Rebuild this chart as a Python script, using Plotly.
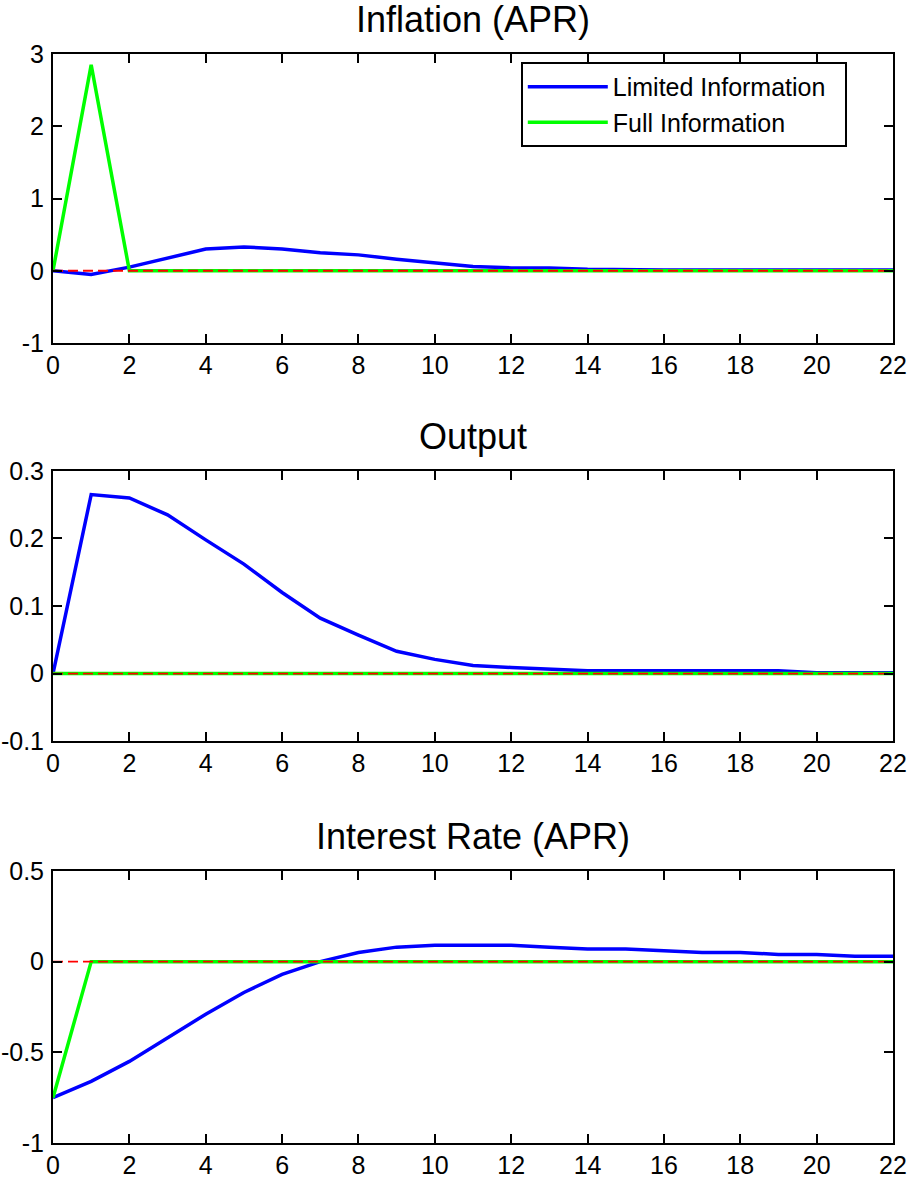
import plotly.graph_objects as go
from plotly.subplots import make_subplots

periods = list(range(0, 23))

infl_limited = [0, -0.05, 0.05, 0.18, 0.30, 0.33, 0.30, 0.25, 0.22, 0.16, 0.11, 0.06, 0.04, 0.04,
                0.02, 0.01, 0.01, 0.01, 0.01, 0.01, 0.01, 0.01, 0.01]
infl_full = [0, 2.85] + [0] * 21

out_limited = [0, 0.265, 0.26, 0.235, 0.198, 0.162, 0.12, 0.082, 0.057, 0.033, 0.021, 0.012, 0.009,
               0.006, 0.004, 0.004, 0.004, 0.004, 0.004, 0.004, 0.001, 0.001, 0.001]
out_full = [0] * 23

rate_limited = [-0.75, -0.66, -0.55, -0.42, -0.29, -0.17, -0.07, 0.0, 0.05, 0.08, 0.09, 0.09, 0.09,
                0.08, 0.07, 0.07, 0.06, 0.05, 0.05, 0.04, 0.04, 0.03, 0.03]
rate_full = [-0.75] + [0] * 22

zero_line = [0] * 23

titles = ["Inflation (APR)", "Output", "Interest Rate (APR)"]
y_ranges = [[-1, 3], [-0.1, 0.3], [-1, 0.5]]
y_ticks = [[-1, 0, 1, 2, 3], [-0.1, 0, 0.1, 0.2, 0.3], [-1, -0.5, 0, 0.5]]
y_ticktext = [["-1", "0", "1", "2", "3"], ["-0.1", "0", "0.1", "0.2", "0.3"], ["-1", "-0.5", "0", "0.5"]]
x_ticks = list(range(0, 23, 2))

FONT = "Liberation Sans, Arial, sans-serif"
TICK_SIZE = 25
NBSP = "\u00a0"

fig = make_subplots(rows=3, cols=1)

series = [(infl_limited, infl_full), (out_limited, out_full), (rate_limited, rate_full)]
for i, (lim, full) in enumerate(series):
    r = i + 1
    fig.add_trace(go.Scatter(x=periods, y=lim, mode="lines", name="Limited Information" + NBSP * 2,
                             line=dict(color="#0000ff", width=3.5), showlegend=(i == 0)), row=r, col=1)
    fig.add_trace(go.Scatter(x=periods, y=full, mode="lines", name="Full Information",
                             line=dict(color="#00ff00", width=3.5), showlegend=(i == 0)), row=r, col=1)
    fig.add_trace(go.Scatter(x=periods, y=zero_line, mode="lines", name="zero",
                             line=dict(color="#ff0000", width=1.8, dash="10px,5px"), showlegend=False),
                  row=r, col=1)

domains = [[0.7346, 1.0], [0.3691, 0.6171], [0.0, 0.2498]]
for i in range(3):
    xa = "xaxis" if i == 0 else f"xaxis{i+1}"
    ya = "yaxis" if i == 0 else f"yaxis{i+1}"
    fig.layout[xa].update(range=[0, 22], tickvals=x_ticks, ticks="inside", ticklen=9, tickwidth=2,
                          tickcolor="black", showline=True, linecolor="black", linewidth=2,
                          mirror="ticks", showgrid=False, zeroline=False, automargin=False,
                          ticklabelstandoff=-1,
                          tickfont=dict(family=FONT, size=TICK_SIZE, color="black"), domain=[0, 1])
    fig.layout[ya].update(range=y_ranges[i], tickvals=y_ticks[i], ticktext=y_ticktext[i],
                          ticks="inside", ticklen=9, tickwidth=2, tickcolor="black",
                          showline=True, linecolor="black", linewidth=2, mirror="ticks",
                          showgrid=False, zeroline=False, domain=domains[i], automargin=False,
                          ticklabelstandoff=2,
                          tickfont=dict(family=FONT, size=TICK_SIZE, color="black"))
    fig.add_annotation(text=titles[i], x=0.5, y=domains[i][1], xref="paper", yref="paper",
                       xanchor="center", yanchor="bottom", yshift=12, showarrow=False,
                       font=dict(family=FONT, size=36, color="black"))

fig.update_layout(
    width=907, height=1178,
    margin=dict(l=53, r=14, t=54, b=35, autoexpand=False),
    paper_bgcolor="white", plot_bgcolor="white",
    font=dict(family=FONT, color="black"),
    legend=dict(x=0.945, y=0.9927, xanchor="right", yanchor="top",
                bgcolor="white", bordercolor="black", borderwidth=2,
                font=dict(family=FONT, size=25, color="black"), tracegroupgap=0,
                itemwidth=80),
)

# remove the browser's default 8px body margin so the figure fills the window exactly
fig.write_html("out.html", config={"displayModeBar": False},
               post_script="document.body.style.margin='0';document.body.style.overflow='hidden';")
